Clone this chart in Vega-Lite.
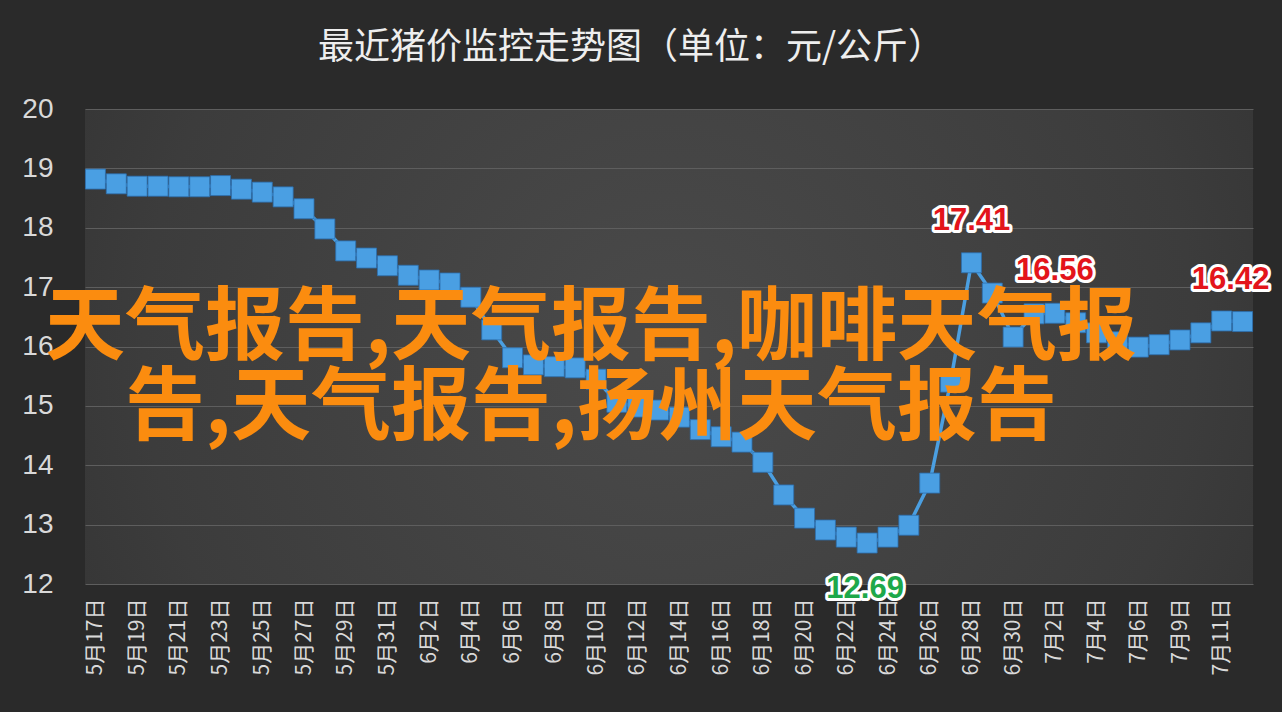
{
  "$schema": "https://vega.github.io/schema/vega-lite/v6.json",
  "autosize": {"type": "none"},
  "width": 1168,
  "height": 475,
  "padding": {"left": 85, "top": 109, "right": 29, "bottom": 128},
  "background": "#2a2a2a",
  "view": {
    "stroke": null,
    "fill": {
      "gradient": "radial",
      "x1": 0.5, "y1": 0.5, "r1": 0,
      "x2": 0.5, "y2": 0.5, "r2": 0.75,
      "stops": [
        {"offset": 0, "color": "#4a4a4a"},
        {"offset": 0.6, "color": "#3c3c3c"},
        {"offset": 1, "color": "#2b2b2b"}
      ]
    }
  },
  "title": {
    "text": "最近猪价监控走势图（单位：元/公斤）",
    "font": "Noto Sans CJK SC",
    "fontSize": 36,
    "fontWeight": "normal",
    "color": "#eeeeee",
    "anchor": "middle",
    "dx": -38,
    "offset": 28
  },
  "data": {
    "values": [
      {"date": "5月17日", "price": 18.82},
      {"date": "5月18日", "price": 18.74},
      {"date": "5月19日", "price": 18.70},
      {"date": "5月20日", "price": 18.70},
      {"date": "5月21日", "price": 18.69},
      {"date": "5月22日", "price": 18.69},
      {"date": "5月23日", "price": 18.71},
      {"date": "5月24日", "price": 18.65},
      {"date": "5月25日", "price": 18.60},
      {"date": "5月26日", "price": 18.52},
      {"date": "5月27日", "price": 18.32},
      {"date": "5月28日", "price": 17.98},
      {"date": "5月29日", "price": 17.61},
      {"date": "5月30日", "price": 17.49},
      {"date": "5月31日", "price": 17.36},
      {"date": "6月1日", "price": 17.20},
      {"date": "6月2日", "price": 17.12},
      {"date": "6月3日", "price": 17.07},
      {"date": "6月4日", "price": 16.83},
      {"date": "6月5日", "price": 16.28},
      {"date": "6月6日", "price": 15.81},
      {"date": "6月7日", "price": 15.69},
      {"date": "6月8日", "price": 15.66},
      {"date": "6月9日", "price": 15.64},
      {"date": "6月10日", "price": 15.45},
      {"date": "6月11日", "price": 15.06},
      {"date": "6月12日", "price": 14.98},
      {"date": "6月13日", "price": 14.93},
      {"date": "6月14日", "price": 14.81},
      {"date": "6月15日", "price": 14.60},
      {"date": "6月16日", "price": 14.48},
      {"date": "6月17日", "price": 14.39},
      {"date": "6月18日", "price": 14.05},
      {"date": "6月19日", "price": 13.50},
      {"date": "6月20日", "price": 13.11},
      {"date": "6月21日", "price": 12.91},
      {"date": "6月22日", "price": 12.79},
      {"date": "6月23日", "price": 12.69},
      {"date": "6月24日", "price": 12.79},
      {"date": "6月25日", "price": 12.99},
      {"date": "6月26日", "price": 13.70},
      {"date": "6月27日", "price": 15.40},
      {"date": "6月28日", "price": 17.41},
      {"date": "6月29日", "price": 16.90},
      {"date": "6月30日", "price": 16.16},
      {"date": "7月1日", "price": 16.55},
      {"date": "7月2日", "price": 16.56},
      {"date": "7月3日", "price": 16.40},
      {"date": "7月4日", "price": 16.23},
      {"date": "7月5日", "price": 16.08},
      {"date": "7月6日", "price": 15.99},
      {"date": "7月8日", "price": 16.03},
      {"date": "7月9日", "price": 16.11},
      {"date": "7月10日", "price": 16.23},
      {"date": "7月11日", "price": 16.43},
      {"date": "7月12日", "price": 16.42}
    ]
  },
  "encoding": {
    "x": {
      "field": "date",
      "type": "ordinal",
      "sort": null,
      "scale": {"type": "point", "padding": 0.5},
      "axis": {
        "title": null,
        "values": ["5月17日","5月19日","5月21日","5月23日","5月25日","5月27日","5月29日","5月31日","6月2日","6月4日","6月6日","6月8日","6月10日","6月12日","6月14日","6月16日","6月18日","6月20日","6月22日","6月24日","6月26日","6月28日","6月30日","7月2日","7月4日","7月6日","7月9日","7月11日"],
        "labelAngle": -90,
        "labelAlign": "right",
        "labelBaseline": "middle",
        "labelFont": "Noto Sans CJK SC",
        "labelFontSize": 21,
        "labelColor": "#d9d9d9",
        "labelPadding": 14,
        "labelOverlap": false,
        "ticks": false,
        "domain": false,
        "grid": false
      }
    },
    "y": {
      "field": "price",
      "type": "quantitative",
      "scale": {"domain": [12, 20], "nice": false, "zero": false},
      "axis": {
        "title": null,
        "values": [12, 13, 14, 15, 16, 17, 18, 19, 20],
        "labelFont": "Liberation Sans",
        "labelFontSize": 28,
        "labelColor": "#d9d9d9",
        "labelPadding": 32,
        "ticks": false,
        "domain": false,
        "grid": true,
        "gridColor": "#5e5e5e",
        "gridWidth": 1
      }
    }
  },
  "layer": [
    {"mark": {"type": "line", "color": "#4b9fe1", "strokeWidth": 3.5}},
    {"mark": {"type": "point", "shape": "square", "filled": true, "size": 400, "fill": "#4a9fe3", "opacity": 1, "stroke": "#2c6fae", "strokeWidth": 0.8}},
    {
      "transform": [{"filter": "datum.date == '6月28日' || datum.date == '7月2日'"}],
      "mark": {"type": "text", "font": "Liberation Sans", "fontSize": 31, "fontWeight": "bold", "baseline": "bottom", "align": "center", "dy": -26, "fill": "#ffffff", "stroke": "#ffffff", "strokeWidth": 6, "strokeJoin": "round"},
      "encoding": {"text": {"field": "price", "type": "quantitative", "format": ".2f"}}
    },
    {
      "transform": [{"filter": "datum.date == '6月28日' || datum.date == '7月2日'"}],
      "mark": {"type": "text", "font": "Liberation Sans", "fontSize": 31, "fontWeight": "bold", "baseline": "bottom", "align": "center", "dy": -26, "fill": "#e3141b"},
      "encoding": {"text": {"field": "price", "type": "quantitative", "format": ".2f"}}
    },
    {
      "transform": [{"filter": "datum.date == '7月12日'"}],
      "mark": {"type": "text", "font": "Liberation Sans", "fontSize": 31, "fontWeight": "bold", "baseline": "bottom", "align": "center", "dy": -26, "dx": -12, "fill": "#ffffff", "stroke": "#ffffff", "strokeWidth": 6, "strokeJoin": "round"},
      "encoding": {"text": {"field": "price", "type": "quantitative", "format": ".2f"}}
    },
    {
      "transform": [{"filter": "datum.date == '7月12日'"}],
      "mark": {"type": "text", "font": "Liberation Sans", "fontSize": 31, "fontWeight": "bold", "baseline": "bottom", "align": "center", "dy": -26, "dx": -12, "fill": "#e3141b"},
      "encoding": {"text": {"field": "price", "type": "quantitative", "format": ".2f"}}
    },
    {
      "transform": [{"filter": "datum.date == '6月23日'"}],
      "mark": {"type": "text", "font": "Liberation Sans", "fontSize": 31, "fontWeight": "bold", "baseline": "top", "align": "center", "dy": 31, "dx": -2, "fill": "#ffffff", "stroke": "#ffffff", "strokeWidth": 6, "strokeJoin": "round"},
      "encoding": {"text": {"field": "price", "type": "quantitative", "format": ".2f"}}
    },
    {
      "transform": [{"filter": "datum.date == '6月23日'"}],
      "mark": {"type": "text", "font": "Liberation Sans", "fontSize": 31, "fontWeight": "bold", "baseline": "top", "align": "center", "dy": 31, "dx": -2, "fill": "#1ea84a"},
      "encoding": {"text": {"field": "price", "type": "quantitative", "format": ".2f"}}
    },
    {
      "transform": [{"filter": "datum.date == '6月10日'"}],
      "mark": {"type": "text", "text": ["天气报告,天气报告,咖啡天气报", "告,天气报告,扬州天气报告"], "lineHeight": 80, "font": "Noto Sans CJK SC", "fontSize": 80, "fontWeight": "bold", "fill": "#fb8c0f", "align": "center", "baseline": "middle", "dx": -5},
      "encoding": {"y": {"datum": 16.3}}
    }
  ]
}
